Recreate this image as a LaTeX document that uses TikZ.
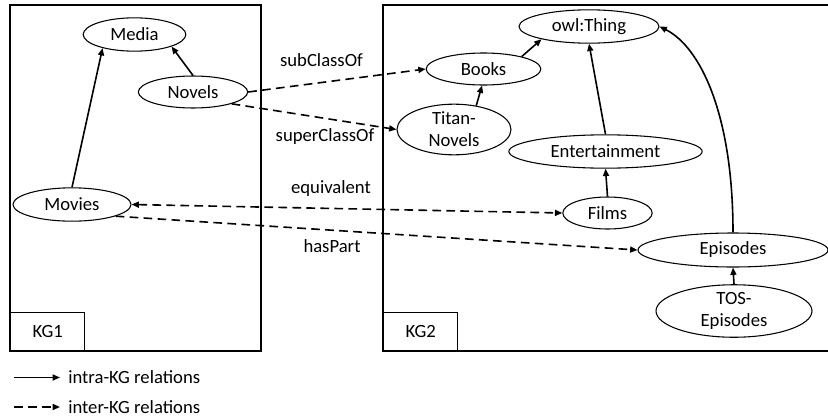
\documentclass[tikz,border=0pt]{standalone}
\usepackage{fontspec}
\setmainfont{Carlito}
\usetikzlibrary{positioning,arrows.meta,shapes.geometric}

\begin{document}
\begin{tikzpicture}[x=0.75pt, y=-0.75pt, font=\fontsize{14}{16.5}\selectfont,
  >={Triangle[length=5.5pt,width=4.5pt]}]
\tikzstyle{cls}=[draw, ellipse, inner sep=0pt, line width=0.8pt, align=center]
\tikzstyle{kglabel}=[draw, line width=1.1pt, minimum width=55.5pt,
  minimum height=28.5pt, inner sep=0pt, anchor=south west]
\tikzstyle{intra}=[->, line width=1.2pt]
\tikzstyle{inter}=[->, line width=1.2pt, dash pattern=on 6.5pt off 4pt]
\useasboundingbox (0,0) rectangle (828,418);

% graph frames
\draw[line width=1.1pt] (10,5) rectangle (261,351);
\draw[line width=1.1pt] (383,5) rectangle (845,351);
\node[kglabel] (kg1) at (10,351) {KG1};
\node[kglabel] (kg2) at (383,351) {KG2};

% KG1 classes
\node[cls, minimum width=77pt, minimum height=25pt] (media) at (134.5,34.5) {Media};
\node[cls, minimum width=82pt, minimum height=24pt] (novels) at (193,92) {Novels};
\node[cls, minimum width=88.5pt, minimum height=25pt] (movies) at (72,204.5) {Movies};

% KG2 classes
\node[cls, minimum width=105pt, minimum height=25pt] (owl) at (589,26.5) {owl:Thing};
\node[cls, minimum width=86pt, minimum height=24pt] (books) at (483.5,69) {Books};
\node[cls, minimum width=85.5pt, minimum height=38pt] (titan) at (454,129.5) {Titan-\\Novels};
\node[cls, minimum width=145pt, minimum height=25pt] (ent) at (605.5,151.5) {Entertainment};
\node[cls, minimum width=67pt, minimum height=24pt] (films) at (607.5,213) {Films};
\node[cls, minimum width=142.5pt, minimum height=25.5pt] (episodes) at (733,250) {Episodes};
\node[cls, minimum width=117pt, minimum height=39pt] (tos) at (734,311) {TOS-\\Episodes};

% intra-KG edges
\draw[intra] (movies.north) -- (media.203);
\draw[intra] (novels.north) -- (media.342);
\draw[intra] (titan.47) -- (books.265);
\draw[intra] (books.18) -- (owl.195);
\draw[intra] (ent.north) -- (owl.south);
\draw[intra] (films.north) -- (ent.south);
\draw[intra] (tos.north) -- (episodes.south);
\draw[intra] (episodes.north) .. controls +(0,-120) and +(40,20) .. (owl.east);

% inter-KG edges
\draw[inter] (novels.east) -- (books.west);
\draw[inter] (novels.-17) -- (titan.west);
\draw[inter, <->] (movies.east) -- (films.west);
\draw[inter] (movies.-15) -- (episodes.west);

\node (sub) at (321.5,60) {subClassOf};
\node (super) at (325,136.5) {superClassOf};
\node (equiv) at (331,189) {equivalent};
\node (part) at (332,246.5) {hasPart};

% legend
\coordinate (la) at (14,377.5);
\coordinate (lb) at (60,377.5);
\coordinate (lc) at (14,407);
\coordinate (ld) at (60,407);
\draw[intra] (la) -- (lb);
\draw[inter] (lc) -- (ld);
\node[right=6pt of lb, inner sep=0pt] (intratxt) {intra-KG relations};
\node[right=6pt of ld, inner sep=0pt] (intertxt) {inter-KG relations};
\end{tikzpicture}
\end{document}
